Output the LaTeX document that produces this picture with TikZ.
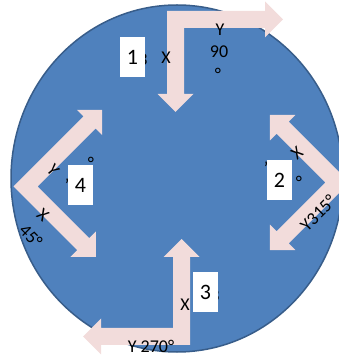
\documentclass[tikz,border=0pt]{standalone}
\usepackage{fontspec}
\setmainfont{Carlito}
\definecolor{circfill}{HTML}{4F81BD}
\definecolor{circline}{HTML}{385D8A}
\definecolor{arrpink}{HTML}{F2DCDB}
\newcommand{\bentarrow}[8]{%
  \begin{scope}[cm={#3,#4,#5,#6,(#1,#2)}]
    \fill[arrpink] (0,0) -- ({#7-18},0) -- ({#7-18},-9.5) -- (#7,8.5) -- ({#7-18},26.5) -- ({#7-18},17)
      -- (17,17) -- (17,{#8-18}) -- (26.5,{#8-18}) -- (8.5,#8) -- (-9.5,{#8-18}) -- (0,{#8-18}) -- cycle;
  \end{scope}}
\tikzset{
  numbox/.style={fill=white, minimum width=25, minimum height=40, inner sep=0pt, font=\fontsize{22}{24}\selectfont},
  lbl/.style={inner sep=0pt, font=\fontsize{18}{20}\selectfont},
}
\begin{document}
\begin{tikzpicture}[x=1pt,y=1pt]
\useasboundingbox (0,0) rectangle (339,356);
\clip (0,0) rectangle (339,356);
% disc
\fill[circfill, draw=circline, line width=1.5pt] (177,177.5) ellipse [x radius=166, y radius=173.5];
% bent arrows
\bentarrow{167}{345}{1}{0}{0}{-1}{116}{101}
\bentarrow{190}{11}{-1}{0}{0}{1}{107}{106}
\bentarrow{13.5}{169.5}{0.7071}{0.7071}{0.7071}{-0.7071}{117}{108}
\bentarrow{349.5}{173.5}{-0.7071}{0.7071}{-0.7071}{-0.7071}{104}{104}
% arrow 1 labels
\node[lbl] (f1) at (143,296) {3};
\node[lbl] (x1) at (166,298) {X};
\node[lbl] (y1) at (220,326) {Y};
\node[lbl] (n1) at (219,304) {90};
\node[lbl] (d1) at (218,282) {°};
\node[numbox] (b1) at (132.5,299) {1};
% arrow 4 labels
\node[lbl, rotate=-50] (y4) at (53,186) {Y};
\node[lbl, rotate=-40] (x4) at (43,141) {X};
\node[lbl, rotate=-45] (a4) at (31,120) {45°};
\node[lbl] (d4) at (91,193) {°};
\node[lbl] (f4) at (67,171) {'};
\node[numbox] (b4) at (80.5,170.5) {4};
% arrow 2 labels
\node[lbl, rotate=40] (x2) at (297,203) {X};
\node[lbl] (d2) at (299,174) {°};
\node[lbl] (f2) at (266,188) {'};
\node[lbl, rotate=45] (a2) at (318,143) {Y315°};
\node[numbox] (b2) at (279.5,175.5) {2};
% arrow 3 labels
\node[lbl] (x3) at (185,51) {X};
\node[lbl] (f3) at (215,60) {3};
\node[numbox] (b3) at (205.5,64) {3};
\node[lbl] (a3) at (151,10) {Y 270°};
\end{tikzpicture}
\end{document}
